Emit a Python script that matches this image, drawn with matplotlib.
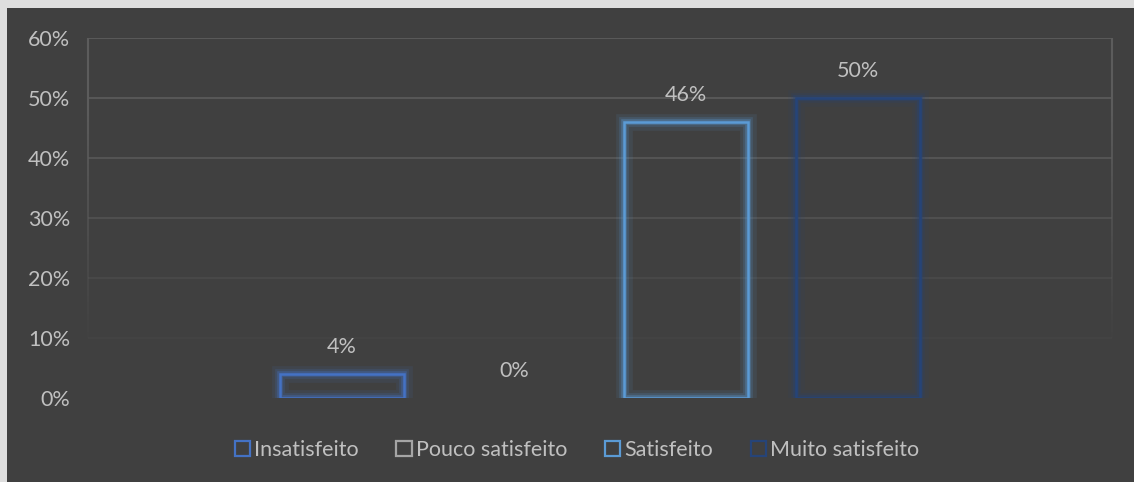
import matplotlib
matplotlib.use("Agg")
import matplotlib.pyplot as plt
import matplotlib.patheffects as pe
from matplotlib.patches import Rectangle, Patch
from matplotlib.collections import LineCollection
import numpy as np

categories = ["Insatisfeito", "Pouco satisfeito", "Satisfeito", "Muito satisfeito"]
values = [4, 0, 46, 50]
value_labels = ["4%", "0%", "46%", "50%"]
colors = ["#4472C4", "#A5A5A5", "#5B9BD5", "#264478"]
yticks = [0, 10, 20, 30, 40, 50, 60]
ytick_labels = ["0%", "10%", "20%", "30%", "40%", "50%", "60%"]

plt.rcParams['font.family'] = ['Lato', 'DejaVu Sans']
W, H = 1134, 482
FS = 15.5
fig = plt.figure(figsize=(W / 100, H / 100), dpi=100)
fig.patch.set_facecolor("#dedede")
fig.patches.append(Rectangle((7 / W, 0), 1, (H - 8) / H, transform=fig.transFigure,
                             facecolor="#404040", edgecolor="none", zorder=-5))

ax = fig.add_axes([88 / W, 84 / H, (1112 - 88) / W, (398 - 38) / H])
ax.set_zorder(2)
ax.set_facecolor("none")
ax.set_xlim(-1.477, 4.477)
ax.set_ylim(0, 60)
for s in ax.spines.values():
    s.set_visible(False)

txt = "#c0c0c0"
ax.set_yticks(yticks)
ax.set_yticklabels(ytick_labels, color=txt, fontsize=FS)
ax.tick_params(axis="y", length=0, pad=13)
ax.set_xticks([])

# fading gridlines
grid_alpha = {0: 0.0, 10: 0.15, 20: 0.35, 30: 0.6, 40: 0.8, 50: 0.95, 60: 1.0}
for t in yticks:
    if t == 0:
        continue
    ax.axhline(t, color="#5c5c5c", lw=1.3, alpha=grid_alpha[t], zorder=1)
# fading vertical borders
ys = np.linspace(0, 60, 61)
for xv in ax.get_xlim():
    segs = [[(xv, ys[i]), (xv, ys[i + 1])] for i in range(len(ys) - 1)]
    alphas = np.clip((ys[:-1] - 8) / 40, 0, 1)
    cols = [(0.36, 0.36, 0.36, a) for a in alphas]
    lc = LineCollection(segs, colors=cols, linewidths=1.5, zorder=1, clip_on=False)
    ax.add_collection(lc)

x = np.arange(len(categories))
for xi, v, c, lab in zip(x, values, colors, value_labels):
    if v > 0:
        b = ax.bar(xi, v, width=0.72, facecolor="none", edgecolor=c, linewidth=1.8, zorder=3)
        b[0].set_path_effects([
            pe.Stroke(linewidth=12, foreground=c, alpha=0.10),
            pe.Stroke(linewidth=7, foreground=c, alpha=0.18),
            pe.Stroke(linewidth=4, foreground=c, alpha=0.35),
            pe.Normal(),
        ])
    ax.annotate(lab, (xi, v), xytext=(0, 12), textcoords="offset points",
                ha="center", va="bottom", color=txt, fontsize=FS)

handles = [Patch(facecolor="none", edgecolor=c, linewidth=1.6, label=n)
           for c, n in zip(colors, categories)]
leg = fig.legend(handles=handles, loc="center", bbox_to_anchor=(577 / W, 1 - 450 / H),
                 ncol=4, frameon=False, fontsize=FS, handlelength=0.7, handleheight=0.7,
                 handletextpad=0.2, columnspacing=1.75, labelcolor=txt)

fig.savefig("out.png", dpi=100, facecolor=fig.get_facecolor())
